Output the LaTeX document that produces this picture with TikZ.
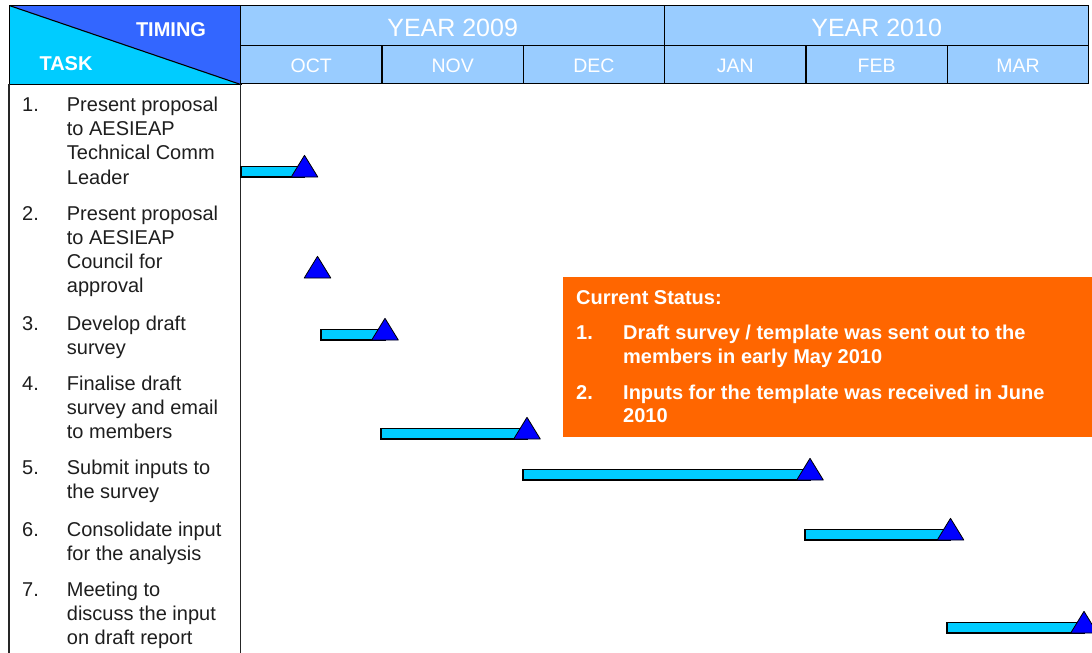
\documentclass[tikz,border=0pt]{standalone}
\usepackage{fontspec}
\setmainfont{Liberation Sans}
\definecolor{hdrblue}{HTML}{99CCFF}
\definecolor{darkblue}{HTML}{3366FF}
\definecolor{cyanfill}{HTML}{00CCFF}
\definecolor{mileblue}{HTML}{0000FF}
\definecolor{statusorange}{HTML}{FF6600}
\definecolor{tasktext}{HTML}{1E1E1E}
\begin{document}
\begin{tikzpicture}[x=1pt,y=-1pt,
  hcell/.style={draw=black, line width=1.3pt, fill=hdrblue, text=white, inner sep=0pt, anchor=north west},
  yearcell/.style={hcell, minimum width=424pt, minimum height=40pt, text height=22pt, text depth=0pt, font=\fontsize{25}{26}\selectfont},
  monthcell/.style={hcell, minimum width=141.33pt, minimum height=38pt, text height=15.4pt, text depth=0pt, font=\fontsize{19.5}{20}\selectfont},
  hdrlabel/.style={anchor=base, inner sep=0pt, text=white, font=\bfseries\fontsize{20}{22}\selectfont},
  tasknum/.style={anchor=base west, inner sep=0pt, text=tasktext, font=\fontsize{20}{24.1}\selectfont},
  tasktxt/.style={anchor=base west, inner sep=0pt, align=left, text=tasktext, font=\fontsize{20}{24.1}\selectfont},
  stattxt/.style={anchor=base west, inner sep=0pt, align=left, text=white, font=\bfseries\fontsize{20}{23.8}\selectfont},
  colline/.style={draw=black!85, line width=1.4pt},
  ganttbar/.style={draw=black, line width=1.2pt, fill=cyanfill},
  mstone/.style={draw=black, line width=0.8pt, fill=mileblue, line join=round},
  milestone/.pic={\draw[mstone] (-13.3,0) -- (0,-21.7) -- (13.3,0) -- cycle;}
]
\clip (0,0) rectangle (1092,653);
\fill[white] (0,0) rectangle (1092,653);

% corner header cell
\node[draw=black, line width=1.3pt, inner sep=0pt, anchor=north west,
      minimum width=231.5pt, minimum height=79pt,
      path picture={
        \fill[darkblue] (path picture bounding box.north west) -- (path picture bounding box.north east) -- (path picture bounding box.south east) -- cycle;
        \fill[cyanfill] (path picture bounding box.north west) -- (path picture bounding box.south west) -- (path picture bounding box.south east) -- cycle;
        \draw[black, line width=1.1pt] (path picture bounding box.north west) -- (path picture bounding box.south east);
      }] (corner) at (9,5) {};
\node[hdrlabel] (timing) at (171,36) {TIMING};
\node[hdrlabel] (task) at (66,70) {TASK};

% years and months
\node[yearcell] (y2009) at (240,5) {YEAR 2009};
\node[yearcell] (y2010) at (664,5) {YEAR 2010};
\node[monthcell] (oct) at (240,45) {OCT};
\node[monthcell] (nov) at (381.33,45) {NOV};
\node[monthcell] (dec) at (522.67,45) {DEC};
\node[monthcell] (jan) at (664,45) {JAN};
\node[monthcell] (feb) at (805.33,45) {FEB};
\node[monthcell] (mar) at (946.67,45) {MAR};

% task column
\draw[colline] (9,84) -- (9,660);
\draw[colline] (240.5,84) -- (240.5,660);

% (multi-line nodes: base anchor = baseline of the last line)
\node[tasknum] (n1) at (22,111.7) {1.};
\node[tasktxt] (t1) at (66.7,184.0) {Present proposal\\to AESIEAP\\Technical Comm\\Leader};
\node[tasknum] (n2) at (22,220) {2.};
\node[tasktxt] (t2) at (66.7,292.5) {Present proposal\\to AESIEAP\\Council for\\approval};
\node[tasknum] (n3) at (22,330) {3.};
\node[tasktxt] (t3) at (66.7,354.1) {Develop draft\\survey};
\node[tasknum] (n4) at (22,390) {4.};
\node[tasktxt] (t4) at (66.7,438.2) {Finalise draft\\survey and email\\to members};
\node[tasknum] (n5) at (22,474) {5.};
\node[tasktxt] (t5) at (66.7,498.5) {Submit inputs to\\the survey};
\node[tasknum] (n6) at (22,536.7) {6.};
\node[tasktxt] (t6) at (66.7,560.8) {Consolidate input\\for the analysis};
\node[tasknum] (n7) at (22,596) {7.};
\node[tasktxt] (t7) at (66.7,644.2) {Meeting to\\discuss the input\\on draft report};

% current status box
\node[fill=statusorange, inner sep=0pt, anchor=north west, minimum width=540pt, minimum height=160pt] (status) at (563,277) {};
\node[stattxt] (sthead) at (576,304) {Current Status:};
\node[stattxt] (sn1) at (576,339.7) {1.};
\node[stattxt] (st1) at (623,363.5) {Draft survey / template was sent out to the\\members in early May 2010};
\node[stattxt] (sn2) at (576,399) {2.};
\node[stattxt] (st2) at (623,422.8) {Inputs for the template was received in June\\2010};

% gantt bars and milestones
\draw[ganttbar] (241,166.5) rectangle (304.5,177);
\pic at (304.5,177) {milestone};
\pic at (317.5,278) {milestone};
\draw[ganttbar] (321,329.5) rectangle (385,340);
\pic at (385,340) {milestone};
\draw[ganttbar] (381,428.5) rectangle (527,439);
\pic at (527,439) {milestone};
\draw[ganttbar] (523,469.5) rectangle (810,480);
\pic at (810,480) {milestone};
\draw[ganttbar] (805,529.5) rectangle (950.5,540);
\pic at (950.5,540) {milestone};
\draw[ganttbar] (947,622.5) rectangle (1084,633);
\pic at (1084,633) {milestone};
\end{tikzpicture}
\end{document}
